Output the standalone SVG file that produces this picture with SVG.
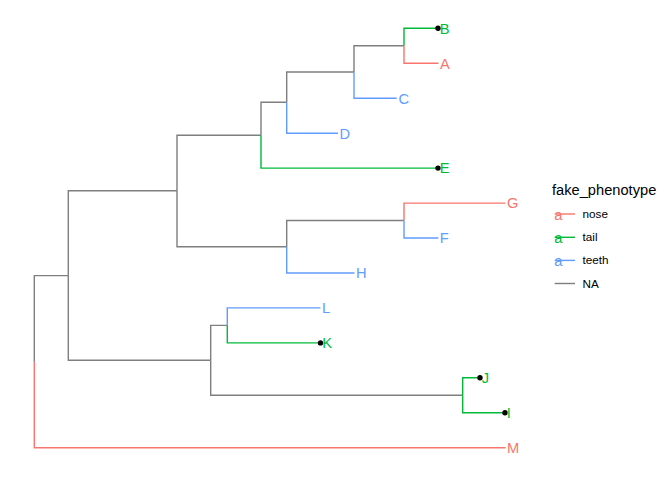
<svg xmlns="http://www.w3.org/2000/svg" width="672" height="480" viewBox="0 0 672 480">
<style>
.e{fill:none;stroke-width:1.42;stroke-linecap:butt;stroke-linejoin:miter}
.g{stroke:#7F7F7F}.r{stroke:#F8766D}.t{stroke:#00BA38}.b{stroke:#619CFF}
.lab{font-family:"Liberation Sans",Arial,sans-serif;font-size:14.67px}
.fr{fill:#F8766D}.ft{fill:#00BA38}.fb{fill:#619CFF}
.pt{fill:#000}
.lt{font-family:"Liberation Sans",Arial,sans-serif;font-size:14.67px;fill:#000}
.ll{font-family:"Liberation Sans",Arial,sans-serif;font-size:11.73px;fill:#000}
</style>
<rect width="672" height="480" fill="#fff"/>
<g id="connectors">
<path class="e g" d="M34.3,361.7V275.6H68.3"/>
<path class="e r" d="M34.3,361.7V447.7H505.5"/>
<path class="e g" d="M68.3,275.6V190.7H177"/>
<path class="e g" d="M68.3,275.6V360.3H210.7"/>
<path class="e g" d="M177,190.7V135.2H261"/>
<path class="e g" d="M177,190.7V246.8H286.7"/>
<path class="e g" d="M261,135.2V102.3H286.7"/>
<path class="e t" d="M261,135.2V168.1H438"/>
<path class="e g" d="M286.7,102.3V72H354"/>
<path class="e b" d="M286.7,102.3V133.2H338"/>
<path class="e g" d="M354,72V45.8H404"/>
<path class="e b" d="M354,72V98.2H396.7"/>
<path class="e t" d="M404,45.8V28.3H438"/>
<path class="e r" d="M404,45.8V63.3H438.5"/>
<path class="e g" d="M286.7,246.8V220.5H404"/>
<path class="e b" d="M286.7,246.8V273H354.5"/>
<path class="e r" d="M404,220.5V203.1H505.5"/>
<path class="e b" d="M404,220.5V238H438.3"/>
<path class="e g" d="M210.7,360.3V325.4H227.3"/>
<path class="e g" d="M210.7,360.3V395.3H462.7"/>
<path class="e b" d="M227.3,325.4V307.9H320.5"/>
<path class="e t" d="M227.3,325.4V342.9H320.5"/>
<path class="e t" d="M462.7,395.3V377.8H480"/>
<path class="e t" d="M462.7,395.3V412.8H505"/>
</g>
<g id="tip-B"><circle class="pt" cx="438" cy="28.3" r="2.7"/><text class="lab ft" x="439.8" y="33.6">B</text></g>
<g id="tip-A"><text class="lab fr" x="440" y="68.6">A</text></g>
<g id="tip-C"><text class="lab fb" x="398.4" y="103.5">C</text></g>
<g id="tip-D"><text class="lab fb" x="339.6" y="138.5">D</text></g>
<g id="tip-E"><circle class="pt" cx="438" cy="168.1" r="2.7"/><text class="lab ft" x="439.8" y="173.4">E</text></g>
<g id="tip-G"><text class="lab fr" x="507" y="208.4">G</text></g>
<g id="tip-F"><text class="lab fb" x="439.8" y="243.3">F</text></g>
<g id="tip-H"><text class="lab fb" x="356" y="278.3">H</text></g>
<g id="tip-L"><text class="lab fb" x="322" y="313.2">L</text></g>
<g id="tip-K"><circle class="pt" cx="320.5" cy="342.9" r="2.7"/><text class="lab ft" x="322.2" y="348.2">K</text></g>
<g id="tip-J"><circle class="pt" cx="480" cy="377.8" r="2.7"/><text class="lab ft" x="481.7" y="383.1">J</text></g>
<g id="tip-I"><circle class="pt" cx="505" cy="412.8" r="2.7"/><text class="lab ft" x="506.7" y="418.1">I</text></g>
<g id="tip-M"><text class="lab fr" x="507" y="453">M</text></g>
<g id="legend">
<text class="lt" x="552" y="194.5">fake_phenotype</text>
<line class="e r" x1="554.7" y1="214" x2="575" y2="214"/>
<text class="lab fr" x="554.2" y="220">a</text>
<text class="ll" x="582.5" y="218">nose</text>
<line class="e t" x1="554.7" y1="237.3" x2="575" y2="237.3"/>
<text class="lab ft" x="554.2" y="243.3">a</text>
<text class="ll" x="582.5" y="241.3">tail</text>
<line class="e b" x1="554.7" y1="260.4" x2="575" y2="260.4"/>
<text class="lab fb" x="554.2" y="266.4">a</text>
<text class="ll" x="582.5" y="264.4">teeth</text>
<line class="e g" x1="554.7" y1="283.5" x2="575" y2="283.5"/>
<text class="ll" x="582.5" y="287.5">NA</text>
</g>
</svg>
